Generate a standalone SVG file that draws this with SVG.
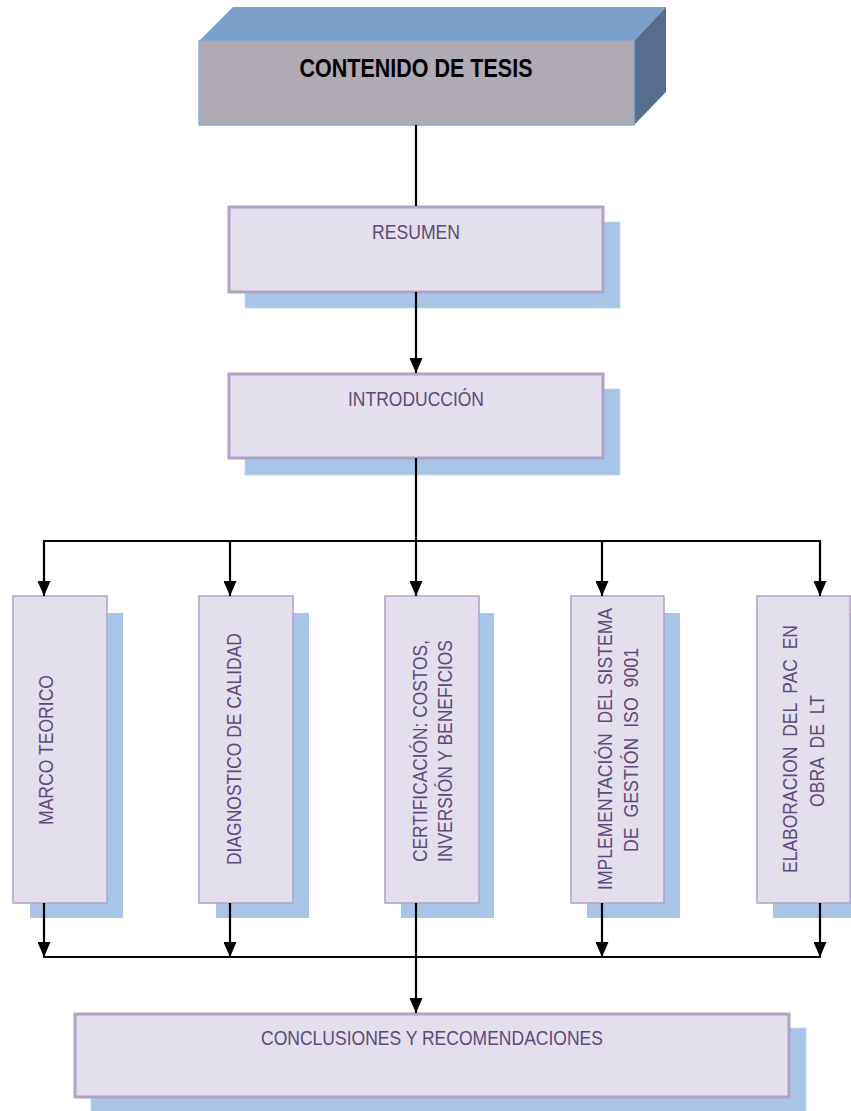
<svg xmlns="http://www.w3.org/2000/svg" width="851" height="1111" viewBox="0 0 851 1111">
<style>
.box{fill:#e4dfec;stroke:#b2a1c7}
.hb{stroke-width:3}
.vb{stroke-width:1.5}
.sh{fill:#a8c4e6;stroke:#c6d9f1;stroke-width:1}
.t{font-family:"Liberation Sans",Arial,sans-serif;font-size:21px;fill:#5f497a;white-space:pre}
.c{stroke:#000;stroke-width:2.2;fill:none}
</style>
<defs>
<marker id="ah" markerUnits="userSpaceOnUse" markerWidth="13" markerHeight="15" refX="6.5" refY="15" orient="0" viewBox="0 0 13 15">
<path d="M0,0 L13,0 L6.5,15 Z" fill="#000"/>
</marker>
</defs>
<g id="contenido">
<polygon points="199,41 233,7 666,7 634,41" fill="#7b9fc8"/>
<polygon points="634,41 666,7 666,92 634,125" fill="#566d8e"/>
<rect x="199" y="41" width="435" height="84" fill="#b0aab4" stroke="#8eaad0" stroke-width="1.5"/>
<text x="416" y="77" text-anchor="middle" font-family="Liberation Sans,Arial,sans-serif" font-size="25" font-weight="bold" fill="#000" textLength="233" lengthAdjust="spacingAndGlyphs">CONTENIDO DE TESIS</text>
</g>
<g id="resumen">
<rect class="sh" x="245" y="222" width="375" height="86"/>
<rect class="box hb" x="229" y="207" width="374" height="85"/>
<text class="t" x="416" y="239" text-anchor="middle" textLength="88" lengthAdjust="spacingAndGlyphs">RESUMEN</text>
</g>
<g id="introduccion">
<rect class="sh" x="245" y="389" width="375" height="86"/>
<rect class="box hb" x="229" y="374" width="374" height="84"/>
<text class="t" x="416" y="406" text-anchor="middle" textLength="136" lengthAdjust="spacingAndGlyphs">INTRODUCCIÓN</text>
</g>
<g id="marco">
<rect x="30" y="613" width="93" height="305" fill="#a8c4e6"/>
<rect class="box vb" x="13" y="596" width="94" height="307"/>
<text class="t" transform="translate(53,750) rotate(-90)" text-anchor="middle" textLength="150" lengthAdjust="spacingAndGlyphs">MARCO TEORICO</text>
</g>
<g id="diagnostico">
<rect x="216" y="613" width="93" height="305" fill="#a8c4e6"/>
<rect class="box vb" x="199" y="596" width="94" height="307"/>
<text class="t" transform="translate(241,749) rotate(-90)" text-anchor="middle" textLength="232" lengthAdjust="spacingAndGlyphs">DIAGNOSTICO DE CALIDAD</text>
</g>
<g id="certificacion">
<rect x="401" y="613" width="93" height="305" fill="#a8c4e6"/>
<rect class="box vb" x="385" y="596" width="94" height="307"/>
<text class="t" transform="translate(427,751) rotate(-90)" text-anchor="middle" textLength="222" lengthAdjust="spacingAndGlyphs">CERTIFICACIÓN: COSTOS,</text>
<text class="t" transform="translate(452,751) rotate(-90)" text-anchor="middle" textLength="222" lengthAdjust="spacingAndGlyphs">INVERSIÓN Y BENEFICIOS</text>
</g>
<g id="implementacion">
<rect x="587" y="613" width="93" height="305" fill="#a8c4e6"/>
<rect class="box vb" x="571" y="596" width="93" height="307"/>
<text class="t" transform="translate(612,749) rotate(-90)" text-anchor="middle" textLength="282" lengthAdjust="spacingAndGlyphs">IMPLEMENTACIÓN  DEL SISTEMA</text>
<text class="t" transform="translate(638,750) rotate(-90)" text-anchor="middle" textLength="204" lengthAdjust="spacingAndGlyphs">DE  GESTIÓN  ISO  9001</text>
</g>
<g id="elaboracion">
<rect x="773" y="613" width="93" height="305" fill="#a8c4e6"/>
<rect class="box vb" x="757" y="596" width="93" height="307"/>
<text class="t" transform="translate(797,749) rotate(-90)" text-anchor="middle" textLength="248" lengthAdjust="spacingAndGlyphs">ELABORACION  DEL  PAC  EN</text>
<text class="t" transform="translate(824,751) rotate(-90)" text-anchor="middle" textLength="112" lengthAdjust="spacingAndGlyphs">OBRA  DE  LT</text>
</g>
<g id="conclusiones">
<rect class="sh" x="91" y="1028" width="715" height="90"/>
<rect class="box hb" x="75" y="1014" width="714" height="83"/>
<text class="t" x="432" y="1045" text-anchor="middle" textLength="342" lengthAdjust="spacingAndGlyphs">CONCLUSIONES Y RECOMENDACIONES</text>
</g>
<g id="connectors">
<line class="c" x1="416" y1="125" x2="416" y2="206"/>
<line class="c" x1="416" y1="292" x2="416" y2="373" marker-end="url(#ah)"/>
<line class="c" x1="416" y1="458" x2="416" y2="541"/>
<line class="c" x1="43" y1="541" x2="821" y2="541"/>
<line class="c" x1="44" y1="541" x2="44" y2="596" marker-end="url(#ah)"/>
<line class="c" x1="230" y1="541" x2="230" y2="596" marker-end="url(#ah)"/>
<line class="c" x1="416" y1="541" x2="416" y2="596" marker-end="url(#ah)"/>
<line class="c" x1="602" y1="541" x2="602" y2="596" marker-end="url(#ah)"/>
<line class="c" x1="820" y1="541" x2="820" y2="596" marker-end="url(#ah)"/>
<line class="c" x1="44" y1="903" x2="44" y2="957" marker-end="url(#ah)"/>
<line class="c" x1="230" y1="903" x2="230" y2="957" marker-end="url(#ah)"/>
<line class="c" x1="602" y1="903" x2="602" y2="957" marker-end="url(#ah)"/>
<line class="c" x1="820" y1="903" x2="820" y2="957" marker-end="url(#ah)"/>
<line class="c" x1="43" y1="957" x2="821" y2="957"/>
<line class="c" x1="416" y1="903" x2="416" y2="1013" marker-end="url(#ah)"/>
</g>
</svg>
